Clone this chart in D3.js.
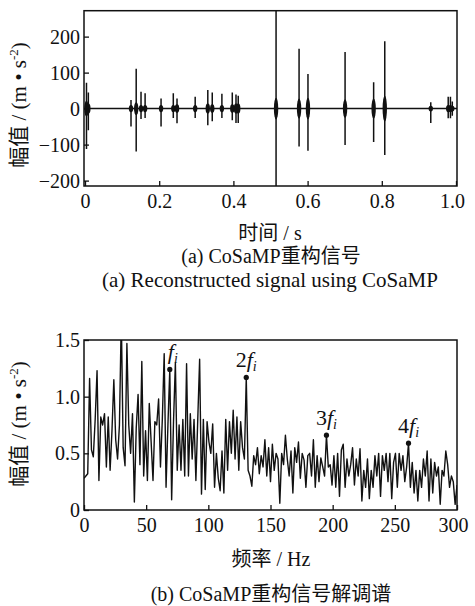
<!DOCTYPE html>
<html>
<head>
<meta charset="utf-8">
<script src="https://cdn.jsdelivr.net/npm/d3@7"></script>
<style>
  body { margin: 0; background: #fff; }
  text { font-family: "Liberation Serif", "Noto Sans CJK SC", serif; fill: #111; }
</style>
</head>
<body>
<div id="chart"></div>
<script>
// (a) reconstructed signal: impulse bursts (time in s, peaks in m/s^2)
const burstTime = [0.004, 0.009, 0.124, 0.138, 0.151, 0.162, 0.205, 0.238, 0.248, 0.297, 0.331, 0.343, 0.369, 0.397, 0.407, 0.413, 0.515, 0.577, 0.601, 0.701, 0.778, 0.808, 0.932, 0.979, 0.985, 0.990];
const burstMax = [72, 45, 24, 111, 47, 43, 28, 43, 28, 33, 52, 45, 41, 45, 39, 36, 300, 166, 96, 157, 73, 187, 18, 33, 33, 20];
const burstMin = [-112, -60, -50, -119, -29, -26, -50, -26, -41, -26, -46, -35, -26, -32, -40, -40, -300, -105, -117, -101, -93, -129, -40, -27, -27, -20];
const burstCore = [22, 14, 10, 18, 10, 10, 10, 10, 12, 10, 14, 12, 10, 12, 14, 14, 30, 28, 30, 26, 28, 36, 8, 10, 10, 8];
const timeTicks = [0, 0.2, 0.4, 0.6, 0.8, 1.0];
const ampTicks = [-200, -100, 0, 100, 200];

// (b) demodulation spectrum, 1.5 Hz steps from 0 to 300 Hz
const freqStep = 1.5;
const specAmp = [
  0.28,0.30,0.32,1.16,0.53,0.47,0.80,1.23,0.26,0.82,
  0.75,0.85,0.38,0.82,0.35,0.70,1.15,0.62,0.45,0.75,
  1.70,0.55,0.39,1.47,0.75,0.50,0.85,0.07,0.72,1.02,
  0.40,1.31,0.30,0.70,0.26,0.94,0.60,0.26,0.78,0.75,
  0.98,0.38,0.80,1.38,0.20,0.75,1.24,0.09,0.78,1.30,
  0.35,0.75,0.35,0.80,0.30,1.29,0.30,0.85,0.45,0.80,
  0.26,0.80,1.33,0.14,0.80,0.18,0.78,0.60,0.50,0.76,
  0.20,0.50,0.28,0.17,0.52,0.15,0.80,0.35,0.78,0.50,
  0.88,0.45,0.82,0.35,0.78,0.55,0.45,1.17,0.35,0.30,
  0.21,0.48,0.40,0.55,0.32,0.48,0.38,0.62,0.30,0.55,
  0.25,0.58,0.35,0.50,0.45,0.06,0.50,0.40,0.66,0.45,
  0.30,0.52,0.15,0.55,0.42,0.60,0.28,0.50,0.44,0.20,
  0.48,0.50,0.30,0.62,0.20,0.48,0.25,0.46,0.38,0.30,
  0.66,0.38,0.40,0.22,0.48,0.20,0.50,0.12,0.53,0.58,
  0.20,0.45,0.30,0.40,0.55,0.22,0.45,0.30,0.54,0.08,
  0.35,0.20,0.45,0.10,0.35,0.20,0.48,0.30,0.50,0.12,
  0.48,0.35,0.50,0.25,0.50,0.10,0.42,0.50,0.20,0.50,
  0.35,0.48,0.25,0.38,0.59,0.20,0.42,0.15,0.35,0.08,
  0.35,0.20,0.45,0.30,0.52,0.08,0.45,0.15,0.42,0.30,
  0.38,0.05,0.35,0.30,0.52,0.40,0.20,0.30,0.25,0.05,
  0.22
];
const harmonicFreq = [69, 130.5, 195, 261];
const harmonicAmp = [1.24, 1.17, 0.66, 0.59];
const harmonicMult = ["", "2", "3", "4"];
const freqTicks = [0, 50, 100, 150, 200, 250, 300];
const specTicks = [0, 0.5, 1.0, 1.5];

const width = 475, height = 606;
const serif = "'Liberation Serif', 'Noto Sans CJK SC', serif";
const svg = d3.select("#chart").append("svg")
  .attr("width", width).attr("height", height)
  .attr("font-family", serif);

const fmt1 = d => d === 0 ? "0" : d3.format(".1f")(d);

function frame(x0, x1, y0, y1, id) {
  svg.append("clipPath").attr("id", id)
    .append("rect").attr("x", x0).attr("y", y0)
    .attr("width", x1 - x0).attr("height", y1 - y0);
}

function axes(x, y, xt, yt, xf, yf, top, bottom, left, right) {
  const gx = svg.append("g").attr("transform", `translate(0,${bottom})`)
    .call(d3.axisBottom(x).tickValues(xt).tickFormat(xf)
      .tickSizeInner(-5).tickSizeOuter(0).tickPadding(8));
  const gy = svg.append("g").attr("transform", `translate(${left},0)`)
    .call(d3.axisLeft(y).tickValues(yt).tickFormat(yf)
      .tickSizeInner(-5).tickSizeOuter(0).tickPadding(4));
  [gx, gy].forEach(g => {
    g.attr("font-family", serif).attr("font-size", 20);
    g.select(".domain").remove();
    g.selectAll("line").attr("stroke", "#111").attr("stroke-width", 1.3);
    g.selectAll("text").attr("fill", "#111").style("font-family", serif);
  });
  // last x label sits a little inside, as in the source figure
  gx.selectAll(".tick").filter((d, i, n) => i === n.length - 1)
    .select("text").attr("dx", -4);
  svg.append("rect").attr("x", left).attr("y", top)
    .attr("width", right - left).attr("height", bottom - top)
    .attr("fill", "none").attr("stroke", "#111").attr("stroke-width", 1.5);
}

function yLabel(cx, cy) {
  const t = svg.append("text")
    .attr("transform", `translate(${cx},${cy}) rotate(-90)`)
    .attr("text-anchor", "middle").attr("font-size", 21);
  t.append("tspan").text("幅值 / (m • s");
  t.append("tspan").attr("font-size", 13).attr("dy", -8).text("-2");
  t.append("tspan").attr("dy", 8).text(")");
}

function caption(txt, x, y, size) {
  svg.append("text").attr("x", x).attr("y", y)
    .attr("text-anchor", "middle").attr("font-size", size).text(txt);
}

// ---------- (a) time signal ----------
const xT = d3.scaleLinear().domain([0, 1]).range([85, 456]);
const yT = d3.scaleLinear().domain([-215, 272]).range([186, 10.7]);
frame(84, 457, 10.7, 186, "clipA");

const gA = svg.append("g").attr("clip-path", "url(#clipA)");
gA.append("line")
  .attr("x1", 84).attr("x2", 457)
  .attr("y1", yT(0)).attr("y2", yT(0))
  .attr("stroke", "#111").attr("stroke-width", 1.5);
gA.selectAll(".spike").data(burstTime).enter().append("line")
  .attr("x1", d => xT(d)).attr("x2", d => xT(d))
  .attr("y1", (d, i) => yT(burstMax[i]))
  .attr("y2", (d, i) => yT(burstMin[i]))
  .attr("stroke", "#111").attr("stroke-width", 1.5);
gA.selectAll(".core").data(burstTime).enter().append("ellipse")
  .attr("cx", d => xT(d)).attr("cy", yT(0))
  .attr("rx", 2.2)
  .attr("ry", (d, i) => yT(0) - yT(burstCore[i]))
  .attr("fill", "#111");

axes(xT, yT, timeTicks, ampTicks, fmt1, d3.format("d"), 10.7, 186, 84, 457);
yLabel(26, 105);
caption("时间 / s", 270, 240, 20);
caption("(a) CoSaMP重构信号", 271, 263, 20);
caption("(a) Reconstructed signal using CoSaMP", 270, 287, 21);

// ---------- (b) spectrum ----------
const xB = d3.scaleLinear().domain([0, 300]).range([84, 457]);
const yB = d3.scaleLinear().domain([0, 1.5]).range([510, 340]);
frame(84, 457, 340, 510, "clipB");

const line = d3.line()
  .x((d, i) => xB(i * freqStep))
  .y(d => yB(d));
svg.append("g").attr("clip-path", "url(#clipB)")
  .append("path").datum(specAmp)
  .attr("d", line).attr("fill", "none")
  .attr("stroke", "#111").attr("stroke-width", 1.4)
  .attr("stroke-linejoin", "round");

svg.selectAll(".hdot").data(harmonicFreq).enter().append("circle")
  .attr("cx", d => xB(d)).attr("cy", (d, i) => yB(harmonicAmp[i]))
  .attr("r", 2.6).attr("fill", "#111");

harmonicFreq.forEach((f, i) => {
  const t = svg.append("text")
    .attr("x", xB(f) + (i === 0 ? 3 : 0))
    .attr("y", yB(harmonicAmp[i]) - 10)
    .attr("text-anchor", "middle").attr("font-size", 22);
  if (harmonicMult[i]) t.append("tspan").text(harmonicMult[i]);
  t.append("tspan").attr("font-style", "italic").text("f");
  t.append("tspan").attr("font-style", "italic").attr("font-size", 14)
    .attr("dy", 4).text("i");
});

axes(xB, yB, freqTicks, specTicks, d3.format("d"), fmt1, 340, 510, 84, 457);
yLabel(26, 424);
caption("频率 / Hz", 271, 566, 20);
caption("(b) CoSaMP重构信号解调谱", 271, 601, 20);
</script>
</body>
</html>
